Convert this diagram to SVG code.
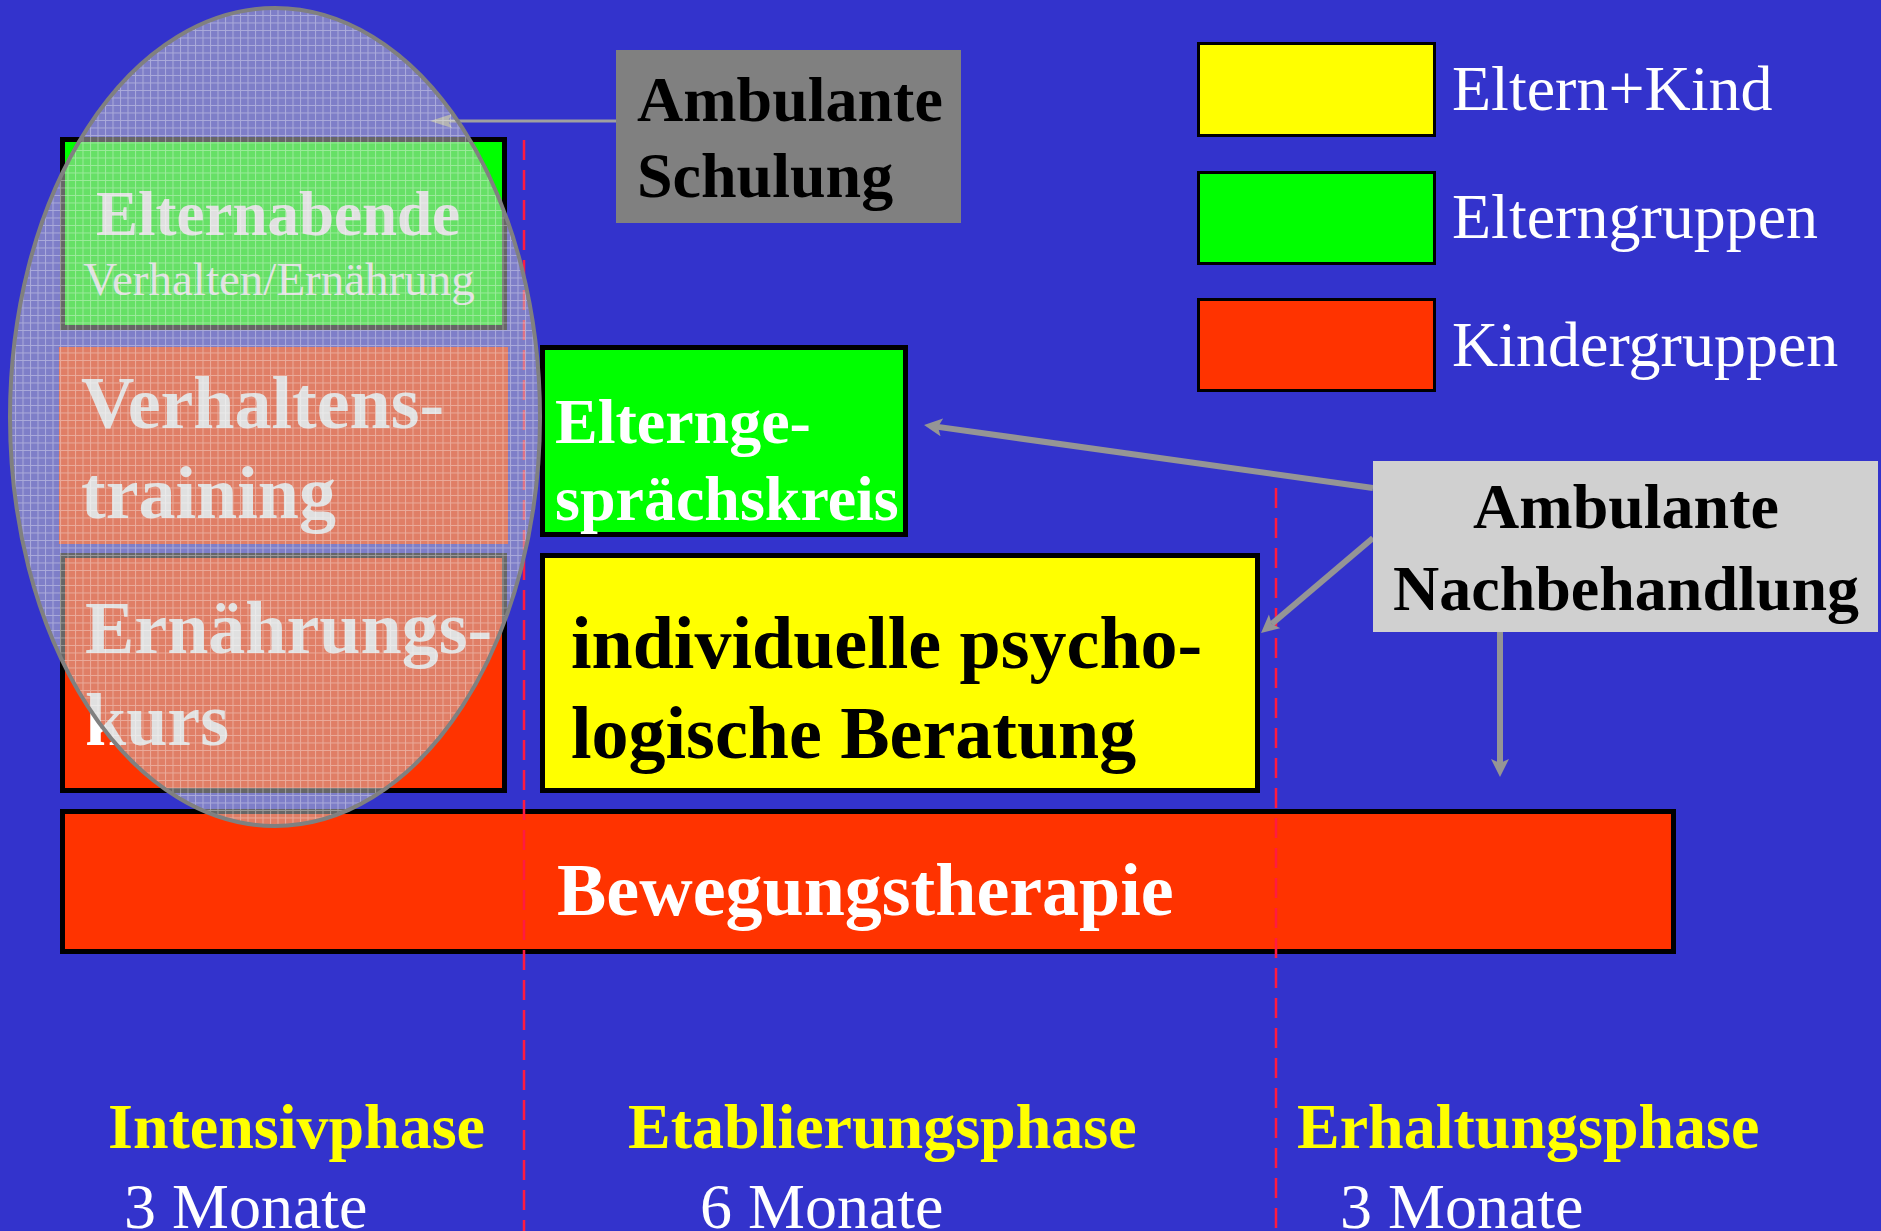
<svg xmlns="http://www.w3.org/2000/svg" width="1881" height="1231" viewBox="0 0 1881 1231">
<defs>
<style>
.bold{font-family:"Liberation Serif","Times New Roman",serif;font-weight:bold}
.reg{font-family:"Liberation Serif","Times New Roman",serif}
.box{stroke:#000;stroke-width:5}
.conn{stroke:#959595;stroke-width:6;fill:none}
.dash{stroke:#ff1a40;stroke-width:2.5;stroke-dasharray:20 10;fill:none}
</style>
<marker id="ah" markerUnits="userSpaceOnUse" markerWidth="20" markerHeight="20" refX="4" refY="9" orient="auto">
<path d="M0,0 L18,9 L0,18 L4,9 z" fill="#959595"/>
</marker>
<marker id="ah2" markerUnits="userSpaceOnUse" markerWidth="24" markerHeight="14" refX="4" refY="7" orient="auto">
<path d="M0,0 L22,7 L0,14 L4,7 z" fill="#a0a0a0"/>
</marker>
<pattern id="grid" width="7.5" height="7.5" patternUnits="userSpaceOnUse">
<rect width="7.5" height="7.5" fill="#c4c4c4" fill-opacity="0.52"/>
<path d="M0,0.5 H7.5 M0.5,0 V7.5" stroke="#ffffff" stroke-opacity="0.35" stroke-width="1"/>
</pattern>
</defs>
<rect width="1881" height="1231" fill="#3333cc"/>

<g id="node-elternabende">
<rect class="box" x="62.5" y="139.5" width="442" height="188" fill="#00ff00"/>
<text class="bold" x="278" y="235" font-size="63" fill="#fff" text-anchor="middle">Elternabende</text>
<text class="reg" x="279" y="295" font-size="47" fill="#fff" text-anchor="middle">Verhalten/Ernährung</text>
</g>
<g id="node-verhaltenstraining">
<rect x="59" y="347" width="449" height="197" fill="#ff3300"/>
<text class="bold" font-size="74" fill="#fff"><tspan x="81" y="428">Verhaltens-</tspan><tspan x="81" y="518">training</tspan></text>
</g>
<g id="node-ernaehrungskurs">
<rect class="box" x="62.5" y="555.5" width="442" height="235" fill="#ff3300"/>
<text class="bold" font-size="74" fill="#fff"><tspan x="85" y="653">Ernährungs-</tspan><tspan x="85" y="745">kurs</tspan></text>
</g>
<g id="node-elterngespraechskreis">
<rect class="box" x="542.5" y="347.5" width="363" height="187" fill="#00ff00"/>
<text class="bold" font-size="64" fill="#fff"><tspan x="555" y="443">Elternge-</tspan><tspan x="555" y="520">sprächskreis</tspan></text>
</g>
<g id="node-beratung">
<rect class="box" x="542.5" y="555.5" width="715" height="235" fill="#ffff00"/>
<text class="bold" font-size="74" fill="#000"><tspan x="571" y="668">individuelle psycho-</tspan><tspan x="571" y="758">logische Beratung</tspan></text>
</g>
<g id="node-bewegungstherapie">
<rect class="box" x="62.5" y="811.5" width="1611" height="140" fill="#ff3300"/>
<text class="bold" x="557" y="915" font-size="74" fill="#fff">Bewegungstherapie</text>
</g>

<g id="phase-lines">
<line class="dash" x1="524" y1="140" x2="524" y2="1231"/>
<line class="dash" x1="1276" y1="488" x2="1276" y2="1231"/>
</g>

<g id="connectors">
<line x1="616" y1="121" x2="448" y2="121" stroke="#a0a0a0" stroke-width="3" marker-end="url(#ah2)"/>
<line class="conn" x1="1373" y1="488" x2="937.9" y2="426.9" marker-end="url(#ah)"/>
<line class="conn" x1="1373" y1="538" x2="1271.7" y2="623.9" marker-end="url(#ah)"/>
<line class="conn" x1="1500" y1="632" x2="1500" y2="763" marker-end="url(#ah)"/>
</g>

<g id="node-ambulante-schulung-overlay">
<ellipse cx="275" cy="417" rx="265" ry="409" fill="url(#grid)" stroke="#808080" stroke-width="4"/>
</g>

<g id="node-ambulante-schulung">
<rect x="616" y="50" width="345" height="173" fill="#808080"/>
<text class="bold" font-size="64" fill="#000"><tspan x="637" y="121">Ambulante</tspan><tspan x="637" y="197">Schulung</tspan></text>
</g>

<g id="node-ambulante-nachbehandlung">
<rect x="1373" y="461" width="505" height="171" fill="#d0d0d0"/>
<text class="bold" font-size="64" fill="#000" text-anchor="middle"><tspan x="1626" y="528">Ambulante</tspan><tspan x="1626" y="610">Nachbehandlung</tspan></text>
</g>

<g id="legend">
<rect x="1198.5" y="43.5" width="236" height="92" fill="#ffff00" stroke="#000" stroke-width="3"/>
<rect x="1198.5" y="172.5" width="236" height="91" fill="#00ff00" stroke="#000" stroke-width="3"/>
<rect x="1198.5" y="299.5" width="236" height="91" fill="#ff3300" stroke="#000" stroke-width="3"/>
<text class="reg" x="1452" y="110" font-size="64" fill="#fff">Eltern+Kind</text>
<text class="reg" x="1452" y="238" font-size="64" fill="#fff">Elterngruppen</text>
<text class="reg" x="1452" y="366" font-size="64" fill="#fff">Kindergruppen</text>
</g>

<g id="phases">
<text class="bold" x="108" y="1148" font-size="64" fill="#ffff00">Intensivphase</text>
<text class="bold" x="628" y="1148" font-size="64" fill="#ffff00">Etablierungsphase</text>
<text class="bold" x="1297" y="1148" font-size="64" fill="#ffff00">Erhaltungsphase</text>
<text class="reg" x="124" y="1228" font-size="64" fill="#fff">3 Monate</text>
<text class="reg" x="700" y="1228" font-size="64" fill="#fff">6 Monate</text>
<text class="reg" x="1340" y="1228" font-size="64" fill="#fff">3 Monate</text>
</g>
</svg>
